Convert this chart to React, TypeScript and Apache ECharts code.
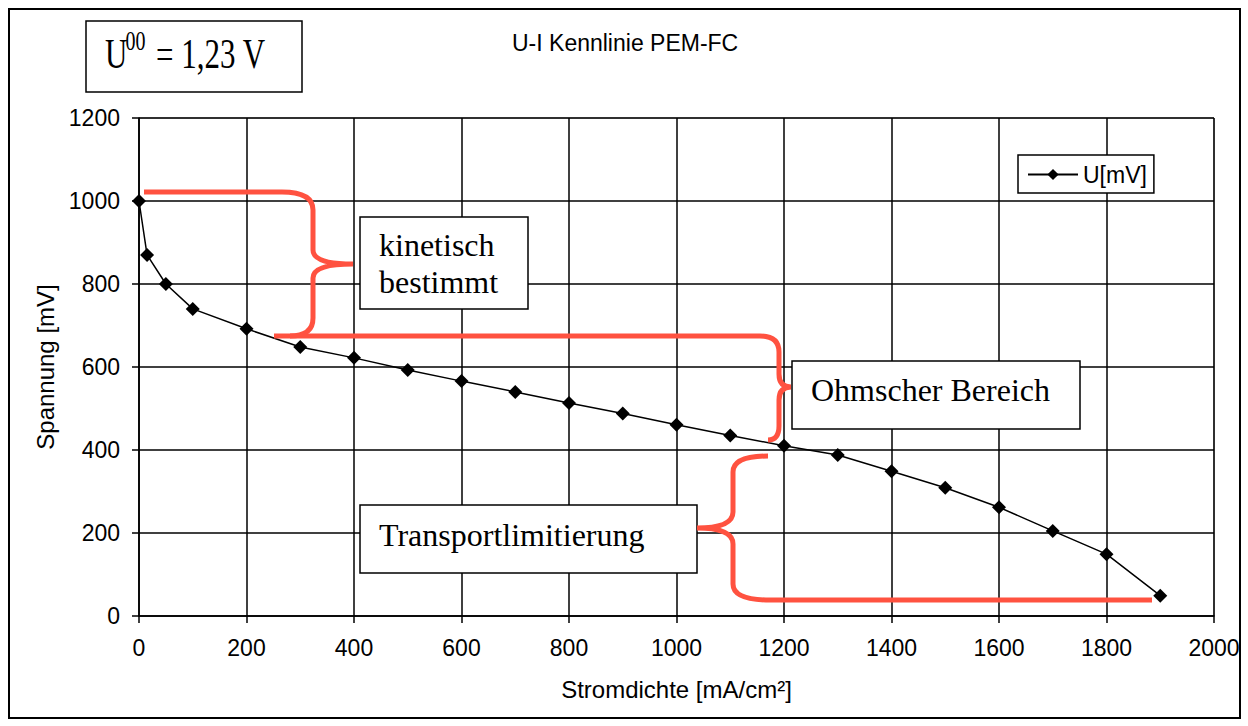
import React, { useEffect, useRef } from "react";
import * as echarts from "echarts";

const currents = [0, 15, 50, 100, 200, 300, 400, 500, 600, 700, 800, 900, 1000, 1100, 1200, 1300, 1400, 1500, 1600, 1700, 1800, 1900];
const voltages = [1000, 870, 800, 740, 692, 648, 622, 593, 566, 540, 513, 488, 461, 435, 410, 388, 349, 309, 262, 205, 149, 49];
const seriesName = "U[mV]";
const chartTitle = "U-I Kennlinie PEM-FC";
const xName = "Stromdichte [mA/cm²]";
const yName = "Spannung [mV]";
const xTicks = { min: 0, max: 2000, interval: 200 };
const yTicks = { min: 0, max: 1200, interval: 200 };

const SANS = "'Liberation Sans', Arial, sans-serif";
const SERIF = "'Liberation Serif', 'Times New Roman', serif";
const RED = "#ff5240";

const brace1 = "M144,192 L282,192 Q313,192 313,210 L313,250 Q313,264 353,264 M353,264 Q313,264 313,278 L313,318 Q313,336 290,336";
const brace2 = "M274,336 L760,336 Q779,336 779,352 L779,374 Q779,387 791,387 M791,387 Q779,387 779,400 L779,426 Q779,440 768,440";
const brace3 = "M768,456 Q733,456 733,472 L733,512 Q733,528 697,528 M697,528 Q733,528 733,544 L733,584 Q733,600 770,600 L1152,600";

export default function App() {
  const ref = useRef<HTMLDivElement>(null);
  useEffect(() => {
    if (!ref.current) return;
    echarts.graphic.registerShape("brace1", echarts.graphic.extendPath(brace1, {}));
    echarts.graphic.registerShape("brace2", echarts.graphic.extendPath(brace2, {}));
    echarts.graphic.registerShape("brace3", echarts.graphic.extendPath(brace3, {}));
    const chart = echarts.init(ref.current, null, { renderer: "svg", width: 1248, height: 726 });
    const braceStyle = { stroke: RED, lineWidth: 5, fill: "none" };
    const boxStyle = { fill: "#fff", stroke: "#000", lineWidth: 1.5 };
    const serifText = (text: string, x: number, y: number, size = 32, scaleY = 1) => ({
      type: "text",
      x,
      y,
      scaleY,
      z: 12,
      style: { text, fontFamily: SERIF, fontSize: size, fill: "#000", textAlign: "left", textVerticalAlign: "middle", verticalAlign: "middle" },
    });
    const plain = (v: number) => String(v);
    chart.setOption({
      animation: false,
      backgroundColor: "#fff",
      title: {
        text: chartTitle,
        left: 512,
        top: 31,
        padding: 0,
        textStyle: { fontFamily: SANS, fontSize: 23, fontWeight: "normal", color: "#000" },
      },
      legend: {
        data: [seriesName],
        left: 1018,
        top: 155,
        padding: [8, 7, 7, 9],
        itemWidth: 50,
        itemHeight: 14,
        backgroundColor: "#fff",
        borderColor: "#000",
        borderWidth: 1.5,
        textStyle: { fontFamily: SANS, fontSize: 23, color: "#000" },
      },
      grid: {
        left: 139,
        top: 118,
        right: 34,
        bottom: 110,
        show: true,
        borderColor: "#808080",
        borderWidth: 1,
      },
      xAxis: {
        type: "value",
        min: xTicks.min,
        max: xTicks.max,
        interval: xTicks.interval,
        name: xName,
        nameLocation: "middle",
        nameGap: 61,
        nameTextStyle: { fontFamily: SANS, fontSize: 24, color: "#000" },
        axisLine: { show: true, lineStyle: { color: "#000", width: 1.5 } },
        axisTick: { show: true, length: 7, lineStyle: { color: "#000", width: 1.5 } },
        axisLabel: { margin: 20, fontFamily: SANS, fontSize: 23, color: "#000", formatter: plain },
        splitLine: { show: true, lineStyle: { color: "#000", width: 1.5 } },
      },
      yAxis: {
        type: "value",
        min: yTicks.min,
        max: yTicks.max,
        interval: yTicks.interval,
        name: yName,
        nameLocation: "middle",
        nameGap: 81,
        nameTextStyle: { fontFamily: SANS, fontSize: 24, color: "#000" },
        axisLine: { show: true, lineStyle: { color: "#000", width: 1.5 } },
        axisTick: { show: true, length: 7, lineStyle: { color: "#000", width: 1.5 } },
        axisLabel: { margin: 19, fontFamily: SANS, fontSize: 23, color: "#000", formatter: plain },
        splitLine: { show: true, lineStyle: { color: "#000", width: 1.5 } },
      },
      series: [
        {
          name: seriesName,
          type: "line",
          data: currents.map((c, i) => [c, voltages[i]]),
          symbol: "diamond",
          symbolSize: 14,
          showSymbol: true,
          itemStyle: { color: "#000" },
          lineStyle: { color: "#000", width: 1.5 },
          z: 5,
        },
      ],
      graphic: [
        { type: "rect", z: 0, shape: { x: 9, y: 9, width: 1231, height: 709 }, style: { fill: "none", stroke: "#000", lineWidth: 2 } },
        { type: "rect", z: 11, shape: { x: 86, y: 21, width: 216, height: 71 }, style: boxStyle },
        serifText("U", 105, 54, 31, 1.35),
        serifText("00", 125.5, 41, 20, 1.35),
        serifText("= 1,23 V", 156, 54, 31, 1.35),
        { type: "rect", z: 11, shape: { x: 360, y: 217, width: 168, height: 92 }, style: boxStyle },
        serifText("kinetisch", 379, 245),
        serifText("bestimmt", 379, 282),
        { type: "rect", z: 11, shape: { x: 792, y: 361, width: 288, height: 68 }, style: boxStyle },
        serifText("Ohmscher Bereich", 811, 390),
        { type: "rect", z: 11, shape: { x: 360, y: 505, width: 337, height: 68 }, style: boxStyle },
        serifText("Transportlimitierung", 379, 535),
        { type: "brace1", z: 13, x: 0, y: 0, style: braceStyle },
        { type: "brace2", z: 13, x: 0, y: 0, style: braceStyle },
        { type: "brace3", z: 13, x: 0, y: 0, style: braceStyle },
      ],
    });
    return () => chart.dispose();
  }, []);
  return <div ref={ref} style={{ position: "fixed", left: 0, top: 0, width: 1248, height: 726 }} />;
}
